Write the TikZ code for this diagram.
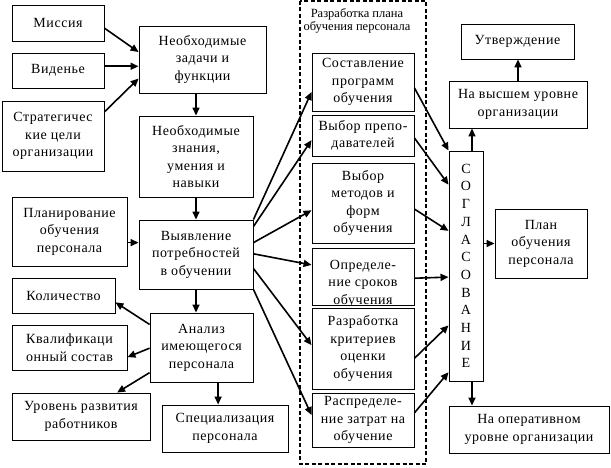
\documentclass[tikz,border=0pt]{standalone}
\usepackage{fontspec}
\setmainfont{Liberation Serif}
\newfontfamily\blokfont{Liberation Serif}[LetterSpace=4]
\usetikzlibrary{arrows.meta, calc}

\begin{document}
\begin{tikzpicture}[x=1pt, y=-1pt,
    blok/.style={draw, line width=0.9pt, inner sep=0pt, align=center,
      font=\blokfont\fontsize{14}{17.5}\selectfont},
    strelka/.style={line width=1.6pt, -{Triangle[length=8pt, width=7pt]}}]
    \useasboundingbox (0,0) rectangle (611,468);
    % Left column
    \node [blok, minimum width=92, minimum height=36] (missiya) at (58,23) {Миссия};
    \node [blok, minimum width=92, minimum height=35] (videnye) at (58,70.5) {Виденье};
    \node [blok, minimum width=102, minimum height=70] (strateg) at (53,136) {Стратегичес\\кие цели\\организации};
    \node [blok, minimum width=115, minimum height=69] (planir) at (69.5,231.5) {Планирование\\обучения\\персонала};
    \node [blok, minimum width=103, minimum height=35] (kolich) at (63.5,295.5) {Количество};
    \node [blok, minimum width=115, minimum height=45] (kvalif) at (69.5,347.5) {Квалификаци\\онный состав};
    \node [blok, minimum width=138, minimum height=47] (uroven) at (81,416.5) {Уровень развития\\работников};
    % Second column
    \node [blok, minimum width=127, minimum height=67] (zadachi) at (202.5,59.5) {Необходимые\\задачи и\\функции};
    \node [blok, minimum width=114, minimum height=81] (znaniya) at (196,156.5) {Необходимые\\знания,\\умения и\\навыки};
    \node [blok, minimum width=114, minimum height=69] (vyyavl) at (196,254.5) {Выявление\\потребностей\\в обучении};
    \node [blok, minimum width=103, minimum height=69] (analiz) at (201.5,347.5) {Анализ\\имеющегося\\персонала};
    \node [blok, minimum width=126, minimum height=47] (spec) at (225,428.5) {Специализация\\персонала};
    % Dashed frame with the plan
    \draw [line width=1.8pt, dash pattern=on 4pt off 2.5pt] (300,1) rectangle (426,464);
    \node [align=center, font=\fontsize{12.5}{13.4}\selectfont] (ramka) at (357,21) {Разработка плана\\обучения персонала};
    \node [blok, minimum width=102, minimum height=58] (sostav) at (363,82) {Составление\\программ\\обучения};
    \node [blok, minimum width=102, minimum height=41] (vybprep) at (363,135.5) {Выбор препо-\\давателей};
    \node [blok, minimum width=102, minimum height=80] (metody) at (363,203) {Выбор\\методов и\\форм\\обучения};
    \begin{scope}
      % last line runs under the border
      \clip (311,247) rectangle (415,305.9);
      \node [blok, minimum width=102, minimum height=57] (sroki) at (363,276.5)
        {\raisebox{-10.5pt}[0pt][0pt]{\begin{tabular}{@{}c@{}}Определе-\\ние сроков\\обучения\end{tabular}}};
    \end{scope}
    \node [blok, minimum width=102, minimum height=81] (razrab) at (363,348.5) {Разработка\\критериев\\оценки\\обучения};
    \node [blok, minimum width=102, minimum height=54] (raspred) at (363,420) {Распределе-\\ние затрат на\\обучение};
    % Right column
    \node [blok, minimum width=34, minimum height=230, font=\blokfont\fontsize{14}{17.7}\selectfont] (soglas) at (466,266) {С\\О\\Г\\Л\\А\\С\\О\\В\\А\\Н\\И\\Е};
    \node [blok, minimum width=113, minimum height=35] (utverzh) at (517.5,41.5) {Утверждение};
    \node [blok, minimum width=138, minimum height=47] (vysshiy) at (518,104.5) {На высшем уровне\\организации};
    \node [blok, minimum width=92, minimum height=69] (plan) at (541,243.5) {План\\обучения\\персонала};
    \node [blok, minimum width=160, minimum height=47] (operat) at (529,429.5) {На оперативном\\уровне организации};
    % Arrows into the tasks
    \coordinate (zadV) at ($(zadachi.north west)!0.6!(zadachi.south west)$);
    \draw [strelka] ($(missiya.north east)!0.64!(missiya.south east)$) -- ($(zadachi.north west)!0.39!(zadachi.south west)$);
    \draw [strelka] (zadV -| videnye.east) -- (zadV);
    \draw [strelka] ($(strateg.north east)!0.16!(strateg.south east)$) -- ($(zadachi.north west)!0.78!(zadachi.south west)$);
    \draw [strelka] (znaniya.north |- zadachi.south) -- (znaniya.north);
    \draw [strelka] (znaniya.south) -- (vyyavl.north);
    \coordinate (vyyV) at ($(vyyavl.north west)!0.33!(vyyavl.south west)$);
    \draw [strelka] (vyyV -| planir.east) -- (vyyV);
    \draw [strelka] (vyyavl.south) -- (vyyavl.south |- analiz.north);
    % Analysis arrows
    \draw [strelka] ($(analiz.north west)!0.17!(analiz.south west)$) -- ($(kolich.north east)!0.69!(kolich.south east)$);
    \draw [strelka] ($(analiz.north west)!0.51!(analiz.south west)$) -- ($(kvalif.north east)!0.71!(kvalif.south east)$);
    \draw [strelka] ($(analiz.north west)!0.86!(analiz.south west)$) -- ($(uroven.north west)!0.76!(uroven.north east)$);
    \coordinate (anaS) at ($(analiz.south west)!0.66!(analiz.south east)$);
    \draw [strelka] (anaS) -- (anaS |- spec.north);
    % Fan into the plan
    \draw [strelka] (vyyavl.north east) -- ($(sostav.north west)!0.67!(sostav.south west)$);
    \draw [strelka] ($(vyyavl.north east)!0.1!(vyyavl.south east)$) -- ($(vybprep.north west)!0.61!(vybprep.south west)$);
    \draw [strelka] ($(vyyavl.north east)!0.33!(vyyavl.south east)$) -- ($(metody.north west)!0.59!(metody.south west)$);
    \draw [strelka] ($(vyyavl.north east)!0.49!(vyyavl.south east)$) -- ($(sroki.north west)!0.3!(sroki.south west)$);
    \draw [strelka] ($(vyyavl.north east)!0.7!(vyyavl.south east)$) -- ($(razrab.north west)!0.46!(razrab.south west)$);
    \draw [strelka] (vyyavl.south east) -- ($(raspred.north west)!0.41!(raspred.south west)$);
    % Into the agreement
    \draw [strelka] ($(sostav.north east)!0.6!(sostav.south east)$) -- (soglas.north west);
    \draw [strelka] ($(vybprep.north east)!0.56!(vybprep.south east)$) -- ($(soglas.north west)!0.148!(soglas.south west)$);
    \draw [strelka] ($(metody.north east)!0.575!(metody.south east)$) -- ($(soglas.north west)!0.348!(soglas.south west)$);
    \draw [strelka] ($(sroki.north east)!0.53!(sroki.south east)$) -- ($(soglas.north west)!0.548!(soglas.south west)$);
    \draw [strelka] ($(razrab.north east)!0.62!(razrab.south east)$) -- ($(soglas.north west)!0.757!(soglas.south west)$);
    \draw [strelka] ($(raspred.north east)!0.37!(raspred.south east)$) -- ($(soglas.north west)!0.96!(soglas.south west)$);
    % Out of the agreement
    \draw [strelka] ([xshift=6pt]soglas.north) -- ([xshift=6pt]soglas.north |- vysshiy.south);
    \draw [strelka] (vysshiy.north) -- (vysshiy.north |- utverzh.south);
    \draw [strelka] (soglas.east |- plan.west) -- (plan.west);
    \draw [strelka] ([xshift=6pt]soglas.south) -- ([xshift=6pt]soglas.south |- operat.north);
\end{tikzpicture}
\end{document}
